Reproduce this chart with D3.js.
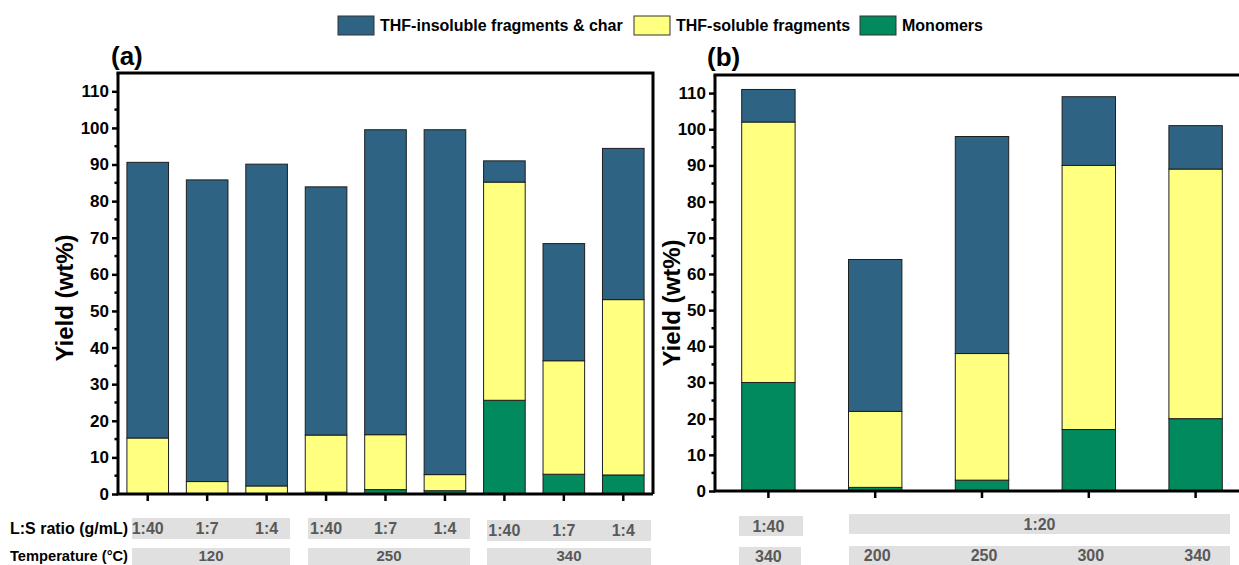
<!DOCTYPE html>
<html>
<head>
<meta charset="utf-8">
<script src="https://cdn.jsdelivr.net/npm/d3@7"></script>
<style>
  body { margin: 0; background: #fff; }
  svg { font-family: "Liberation Sans", Arial, sans-serif; }
</style>
</head>
<body>
<svg id="chart" width="1239" height="565"></svg>
<script>
// ---- data ----
var seriesNames = ["THF-insoluble fragments & char", "THF-soluble fragments", "Monomers"];
var seriesColors = ["#2e6384", "#ffff80", "#008a5e"];

// panel (a)
var catsA = ["a1", "a2", "a3", "a4", "a5", "a6", "a7", "a8", "a9"];
var ratioA = ["1:40", "1:7", "1:4", "1:40", "1:7", "1:4", "1:40", "1:7", "1:4"];
var tempGroupsA = ["120", "250", "340"];
var monomersA = [0, 0, 0, 0.5, 1.2, 0.9, 25.6, 5.4, 5.2];
var solubleA = [15.3, 3.4, 2.2, 15.6, 15.0, 4.4, 59.6, 31.0, 47.9];
var insolubleA = [75.3, 82.4, 87.9, 67.8, 83.3, 94.2, 5.8, 32.0, 41.3];

// panel (b)
var catsB = ["b1", "b2", "b3", "b4", "b5"];
var ratioB = ["1:40", "1:20"];
var tempB = ["340", "200", "250", "300", "340"];
var monomersB = [30, 1, 3, 17, 20];
var solubleB = [72, 21, 35, 73, 69];
var insolubleB = [9, 42, 60, 19, 12];

var yTicks = [0, 10, 20, 30, 40, 50, 60, 70, 80, 90, 100, 110];

var svg = d3.select("#chart");

function drawPanel(cfg) {
  var x = d3.scaleBand().domain(cfg.cats).range([cfg.left, cfg.right]);
  var y = d3.scaleLinear().domain([0, 115]).range([cfg.bottom, cfg.top]);
  var g = svg.append("g");

  var rows = cfg.cats.map(function (c, i) {
    return { cat: c, mono: cfg.mono[i], sol: cfg.sol[i], ins: cfg.ins[i] };
  });
  var stack = d3.stack().keys(["mono", "sol", "ins"])(rows);
  var colorOf = { mono: seriesColors[2], sol: seriesColors[1], ins: seriesColors[0] };
  var bw = x.bandwidth() * cfg.barFrac;

  stack.forEach(function (layer) {
    g.selectAll(null).data(layer).enter().append("rect")
      .attr("x", function (d) { return x(d.data.cat) + (x.bandwidth() - bw) / 2; })
      .attr("y", function (d) { return y(d[1]); })
      .attr("width", bw)
      .attr("height", function (d) { return Math.max(0, y(d[0]) - y(d[1])); })
      .attr("fill", colorOf[layer.key])
      .attr("stroke", "#1e1e1e")
      .attr("stroke-width", 1);
  });

  // y axis
  var yAxis = d3.axisLeft(y).tickValues(yTicks).tickSize(6).tickPadding(3);
  var ya = g.append("g").attr("transform", "translate(" + cfg.left + ",0)").call(yAxis);
  ya.select(".domain").remove();
  ya.selectAll("line").attr("stroke", "#000").attr("stroke-width", 2.5);
  ya.selectAll("text").attr("font-size", 17).attr("font-weight", "bold").attr("fill", "#000");
  // minor ticks
  var minor = d3.range(5, 115, 10);
  g.selectAll(null).data(minor).enter().append("line")
    .attr("x1", cfg.left - 3.5).attr("x2", cfg.left)
    .attr("y1", function (d) { return y(d); }).attr("y2", function (d) { return y(d); })
    .attr("stroke", "#000").attr("stroke-width", 2.5);

  // x ticks
  g.selectAll(null).data(cfg.cats).enter().append("line")
    .attr("x1", function (d) { return x(d) + x.bandwidth() / 2; })
    .attr("x2", function (d) { return x(d) + x.bandwidth() / 2; })
    .attr("y1", cfg.bottom).attr("y2", cfg.bottom + 7)
    .attr("stroke", "#000").attr("stroke-width", 2.5);

  // frame
  var frame = "M" + cfg.left + "," + cfg.top + "V" + cfg.bottom + "H" + cfg.frameRight;
  g.append("path").attr("d", frame).attr("fill", "none").attr("stroke", "#000").attr("stroke-width", 3);
  var topPath = "M" + (cfg.left - 1.5) + "," + cfg.top + "H" + cfg.frameRight + (cfg.closed ? "V" + cfg.bottom : "");
  g.append("path").attr("d", topPath).attr("fill", "none").attr("stroke", "#000").attr("stroke-width", 3);

  // y label
  g.append("text")
    .attr("transform", "translate(" + cfg.ylabX + "," + cfg.ylabY + ") rotate(-90)")
    .attr("text-anchor", "middle")
    .attr("font-size", 24).attr("font-weight", "bold")
    .text("Yield (wt%)");

  // panel letter
  g.append("text").attr("x", cfg.letterX).attr("y", cfg.letterY)
    .attr("font-size", 26).attr("font-weight", "bold").text(cfg.letter);

  return x;
}

var xA = drawPanel({
  cats: catsA, mono: monomersA, sol: solubleA, ins: insolubleA,
  left: 118, right: 653, frameRight: 653, closed: true, top: 73, bottom: 494,
  barFrac: 0.7, ylabX: 73, ylabY: 298, letter: "(a)", letterX: 111, letterY: 65
});
var xB = drawPanel({
  cats: catsB, mono: monomersB, sol: solubleB, ins: insolubleB,
  left: 715, right: 1249, frameRight: 1239, closed: false, top: 75, bottom: 491,
  barFrac: 0.5, ylabX: 680, ylabY: 303, letter: "(b)", letterX: 707, letterY: 66
});

// ---- category boxes under the axes ----
var boxFill = "#e0e0e0", boxText = "#595959";
var lab = svg.append("g").attr("font-weight", "bold");

lab.append("text").attr("x", 10).attr("y", 534).attr("font-size", 16).attr("fill", "#000")
  .attr("textLength", 118).attr("lengthAdjust", "spacingAndGlyphs").text("L:S ratio (g/mL)");
lab.append("text").attr("x", 10).attr("y", 561).attr("font-size", 15).attr("fill", "#000")
  .attr("textLength", 118).attr("lengthAdjust", "spacingAndGlyphs").text("Temperature (°C)");

var groupBoxesA = [[132, 290], [308, 470], [487, 651]];
groupBoxesA.forEach(function (b, gi) {
  var dy = gi === 2 ? 2 : 0;
  lab.append("rect").attr("x", b[0]).attr("y", 518 + dy).attr("width", b[1] - b[0]).attr("height", 21).attr("fill", boxFill);
  lab.append("rect").attr("x", b[0]).attr("y", 548).attr("width", b[1] - b[0]).attr("height", 20).attr("fill", boxFill);
  lab.append("text").attr("x", (b[0] + b[1]) / 2).attr("y", 561).attr("text-anchor", "middle")
    .attr("font-size", 15).attr("fill", boxText).text(tempGroupsA[gi]);
});
catsA.forEach(function (c, i) {
  var dy = i >= 6 ? 2 : 0;
  lab.append("text").attr("x", xA(c) + xA.bandwidth() / 2).attr("y", 534 + dy).attr("text-anchor", "middle")
    .attr("font-size", 16).attr("fill", boxText).text(ratioA[i]);
});

// panel (b) boxes
lab.append("rect").attr("x", 739).attr("y", 516).attr("width", 64).attr("height", 20).attr("fill", boxFill);
lab.append("rect").attr("x", 849).attr("y", 514).attr("width", 381).attr("height", 20).attr("fill", boxFill);
lab.append("rect").attr("x", 739).attr("y", 547).attr("width", 62).attr("height", 19).attr("fill", boxFill);
lab.append("rect").attr("x", 849).attr("y", 546).attr("width", 381).attr("height", 20).attr("fill", boxFill);
lab.append("text").attr("x", xB("b1") + xB.bandwidth() / 2).attr("y", 532).attr("text-anchor", "middle")
  .attr("font-size", 16).attr("fill", boxText).text(ratioB[0]);
lab.append("text").attr("x", (849 + 1230) / 2).attr("y", 530).attr("text-anchor", "middle")
  .attr("font-size", 16).attr("fill", boxText).text(ratioB[1]);
catsB.forEach(function (c, i) {
  lab.append("text").attr("x", xB(c) + xB.bandwidth() / 2 + (i === 0 ? 0 : 2)).attr("y", i === 0 ? 562 : 561)
    .attr("text-anchor", "middle").attr("font-size", 16).attr("fill", boxText).text(tempB[i]);
});

// ---- legend ----
var legendX = [338, 634, 860];
var leg = svg.append("g");
seriesNames.forEach(function (n, i) {
  leg.append("rect").attr("x", legendX[i]).attr("y", 16).attr("width", 36).attr("height", 19)
    .attr("fill", seriesColors[i]).attr("stroke", "#333").attr("stroke-width", 1);
  leg.append("text").attr("x", legendX[i] + 42).attr("y", 31)
    .attr("font-size", 16).attr("font-weight", "bold").text(n);
});
</script>
</body>
</html>
